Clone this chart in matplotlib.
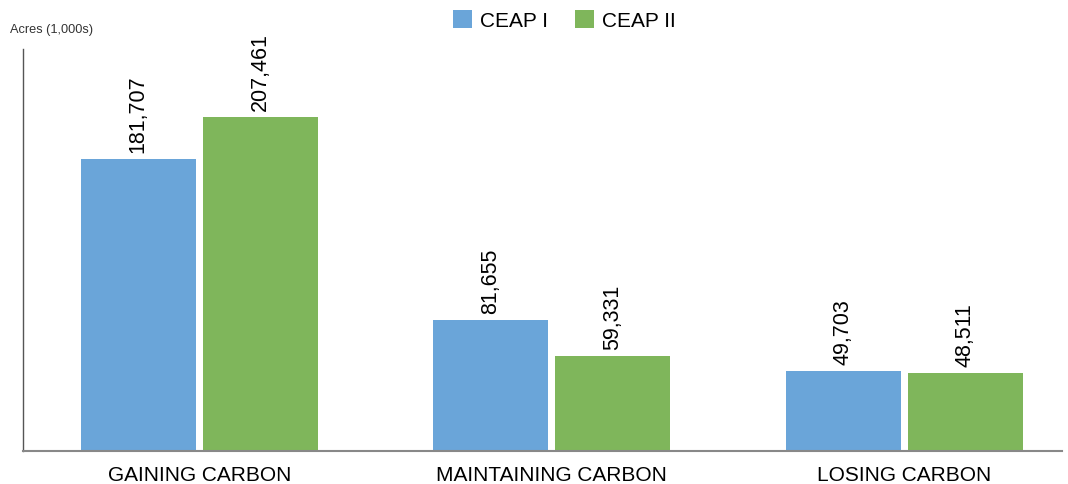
import numpy as np
import matplotlib.pyplot as plt

plt.rcParams['font.family'] = ['Liberation Sans', 'DejaVu Sans']

# data
categories = ["GAINING CARBON", "MAINTAINING CARBON", "LOSING CARBON"]
ceap1 = [181707, 81655, 49703]
ceap2 = [207461, 59331, 48511]
series_names = ["CEAP I", "CEAP II"]

BLUE = "#6aa5d9"
GREEN = "#7fb65b"

W, H = 1068, 485
fig = plt.figure(figsize=(W / 100, H / 100), dpi=100)
ax = fig.add_axes([23 / W, (H - 452) / H, (1062 - 23) / W, (452 - 50) / H])

x = np.arange(len(categories))
bw = 0.326
off = 0.173
b1 = ax.bar(x - off, ceap1, bw, color=BLUE, label=series_names[0])
b2 = ax.bar(x + off, ceap2, bw, color=GREEN, label=series_names[1])

for bars in (b1, b2):
    for r in bars:
        ax.annotate(f"{int(r.get_height()):,}", (r.get_x() + r.get_width() / 2, r.get_height()),
                    xytext=(0, 5), textcoords="offset points", rotation=90,
                    ha="center", va="bottom", fontsize=15.5)

ax.set_xlim(-0.5, 2.447)
ax.set_ylim(0, 250000)
ax.set_xticks(x)
ax.set_xticklabels(categories, fontsize=15)
ax.tick_params(axis="x", length=0, pad=10)
ax.set_yticks([])
for s in ("top", "right"):
    ax.spines[s].set_visible(False)
ax.spines["left"].set_color("#555555")
ax.spines["bottom"].set_color("#888888")
ax.spines["left"].set_linewidth(1.0)
ax.spines["bottom"].set_linewidth(1.5)

fig.text(10 / W, 1 - 30 / H, "Acres (1,000s)", fontsize=9.2, color="#333333", va="center")

fig.legend(handles=[b1, b2], loc="center", bbox_to_anchor=(564 / W, 1 - 21 / H), ncol=2,
           frameon=False, fontsize=15, handlelength=0.95, handleheight=0.95,
           columnspacing=1.3, handletextpad=0.35)

fig.savefig("out.png", dpi=100)
